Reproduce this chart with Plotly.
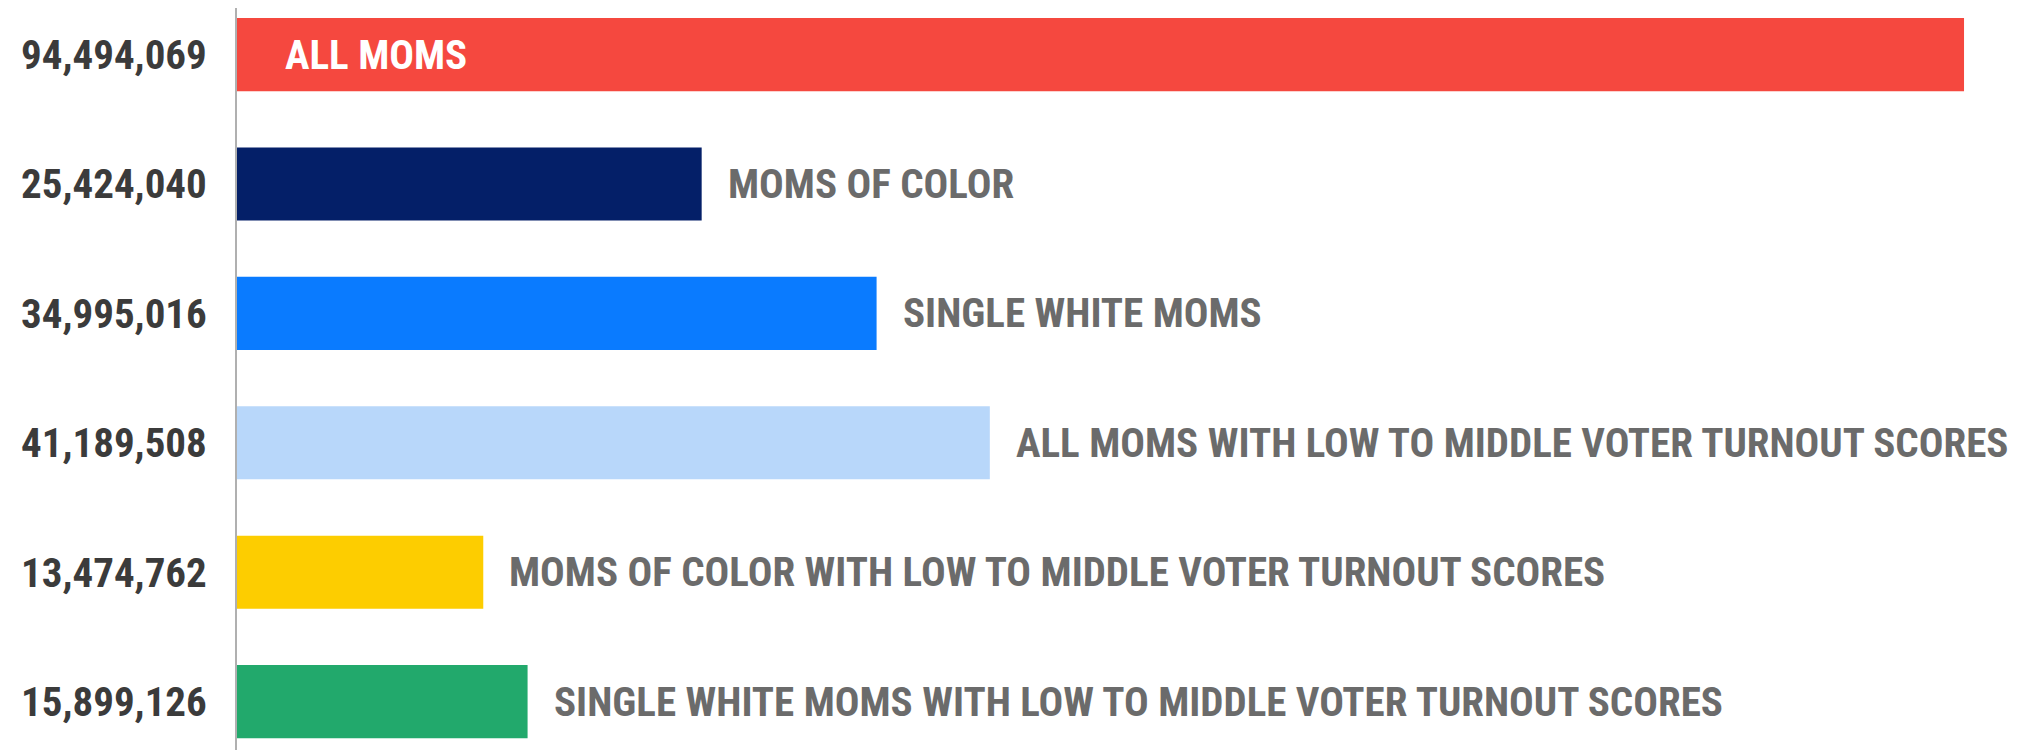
import plotly.graph_objects as go

categories = ["ALL MOMS", "MOMS OF COLOR", "SINGLE WHITE MOMS",
              "ALL MOMS WITH LOW TO MIDDLE VOTER TURNOUT SCORES",
              "MOMS OF COLOR WITH LOW TO MIDDLE VOTER TURNOUT SCORES",
              "SINGLE WHITE MOMS WITH LOW TO MIDDLE VOTER TURNOUT SCORES"]
values = [94494069, 25424040, 34995016, 41189508, 13474762, 15899126]
colors = ["#F5483F", "#041F68", "#0A7BFF", "#B8D7FA", "#FDCD00", "#22A96C"]

FONT = "Roboto, Open Sans, sans-serif"
SIZE = 41


def cond(s):
    return f"<span style='font-stretch:condensed'>{s}</span>"


pos = list(range(len(categories)))

fig = go.Figure()
fig.add_trace(go.Bar(
    x=values, y=pos, orientation="h", marker=dict(color=colors, line=dict(width=0)),
    width=0.565, hoverinfo="skip",
))

for i, (c, v) in enumerate(zip(categories, values)):
    if i == 0:
        fig.add_annotation(x=0, y=i, text=cond(c), xanchor="left", yanchor="middle",
                           xshift=46, showarrow=False,
                           font=dict(family=FONT, size=SIZE, color="white", weight="bold"))
    else:
        fig.add_annotation(x=v, y=i, text=cond(c), xanchor="left", yanchor="middle",
                           xshift=24, showarrow=False,
                           font=dict(family=FONT, size=SIZE, color="#6b6b6b", weight="bold"))

fig.update_layout(
    width=2034, height=750,
    margin=dict(l=229, r=0, t=0, b=0),
    paper_bgcolor="white", plot_bgcolor="white",
    showlegend=False,
    xaxis=dict(range=[0, 98.76e6], showgrid=False, zeroline=False,
               showticklabels=False, showline=False, fixedrange=True),
    yaxis=dict(range=[5.436, -0.36], tickvals=pos,
               ticktext=[cond(f"{v:,}") for v in values],
               tickfont=dict(family=FONT, size=SIZE, color="#3b3b3b", weight="bold"),
               ticks="", ticklabelstandoff=20, showgrid=False, zeroline=False,
               automargin=False,
               showline=True, linecolor="#b0b0b0", linewidth=2, fixedrange=True),
)

fig.write_html("out.html")
